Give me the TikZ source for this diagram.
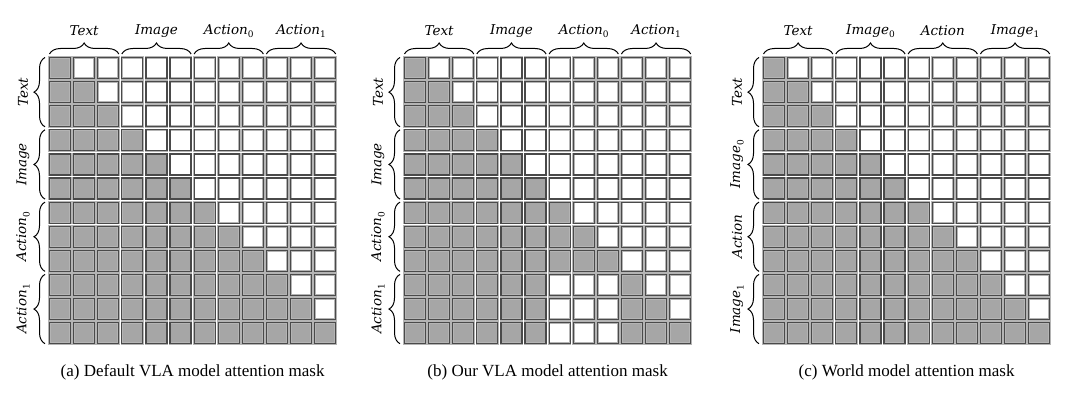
\documentclass[tikz,border=0pt]{standalone}
\usepackage{fontspec}
\setmainfont{Liberation Serif}
\newfontfamily\lblfont{DejaVu Serif}
\usetikzlibrary{decorations.pathreplacing}
\definecolor{cellfill}{HTML}{A6A6A6}
\definecolor{celledge}{HTML}{4A4A4A}
\definecolor{cellhalo}{HTML}{B4B4B4}
\tikzset{
  cellhalobox/.style={draw=cellhalo, line width=2.6pt},
  celledgebox/.style={draw=celledge, line width=1.2pt},
  bracetop/.style={decorate, decoration={brace, amplitude=11pt}, line width=1pt},
  lbl/.style={font=\lblfont\fontsize{13.5}{16}\selectfont\itshape, inner sep=0pt},
  captext/.style={font=\fontsize{17}{20}\selectfont, inner sep=0pt}
}
\newcommand\lsub[1]{\raisebox{-0.25em}{\upshape\fontsize{9}{10}\selectfont #1}}
\def\pitch{24.1}
\def\cs{21}
\def\gy{56}
% #1 = grid left x, #2 = mode (1 = our VLA mask), #3 = name prefix,
% #4..#7 = group labels, #8 = caption
\newcommand\maskpanel[8]{%
  \foreach \r in {0,...,11} {
    \foreach \c in {0,...,11} {
      \pgfmathtruncatemacro\on{(\c<=\r)*(1-#2*(\r>8)*(\c>5)*(\c<9))}
      \ifnum\on=1 \def\fc{cellfill}\else\def\fc{white}\fi
      \pgfmathsetmacro\cx{#1+\c*\pitch+(\pitch-\cs)/2}
      \pgfmathsetmacro\cy{\gy+\r*\pitch+(\pitch-\cs)/2}
      \draw[cellhalobox, fill=\fc] (\cx,\cy) rectangle ++(\cs,\cs);
      \draw[celledgebox] (\cx,\cy) rectangle ++(\cs,\cs);
    }
  }
  \foreach \g/\t in {0/{#4},1/{#5},2/{#6},3/{#7}} {
    \pgfmathsetmacro\ga{#1+3*\g*\pitch+1.5}
    \pgfmathsetmacro\gb{#1+3*(\g+1)*\pitch-1.5}
    \pgfmathsetmacro\gm{(\ga+\gb)/2}
    \pgfmathsetmacro\va{\gy+3*\g*\pitch+1.5}
    \pgfmathsetmacro\vb{\gy+3*(\g+1)*\pitch-1.5}
    \pgfmathsetmacro\vm{(\va+\vb)/2}
    \pgfmathsetmacro\lx{#1-3}
    \pgfmathsetmacro\tx{#1-25}
    \draw[bracetop] (\ga,54) -- (\gb,54);
    \node[lbl] (#3top\g) at (\gm,31) {\t};
    \draw[bracetop] (\lx,\vb) -- (\lx,\va);
    \node[lbl, rotate=90] (#3left\g) at (\tx,\vm) {\t};
  }
  \pgfmathsetmacro\capx{#1+6*\pitch}
  \node[captext] (#3cap) at (\capx,372) {#8};
}
\begin{document}
\begin{tikzpicture}[x=1pt,y=-1pt]
\useasboundingbox (0,0) rectangle (1080,396);
\fill[white] (0,0) rectangle (1080,396);
\maskpanel{48}{0}{a}{Text}{Image}{Action\lsub{0}}{Action\lsub{1}}{(a) Default VLA model attention mask}
\maskpanel{403}{1}{b}{Text}{Image}{Action\lsub{0}}{Action\lsub{1}}{(b) Our VLA model attention mask}
\maskpanel{762}{0}{c}{Text}{Image\lsub{0}}{Action}{Image\lsub{1}}{(c) World model attention mask}
\end{tikzpicture}
\end{document}
